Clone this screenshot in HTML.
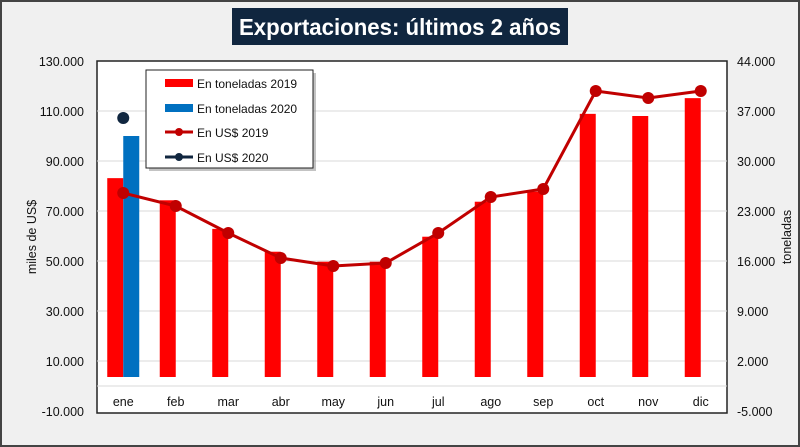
<!DOCTYPE html>
<html><head><meta charset="utf-8"><style>
body{margin:0;background:#fff}
svg{display:block;font-family:"Liberation Sans",sans-serif}
</style></head><body>
<svg id="c" width="800" height="447" xmlns="http://www.w3.org/2000/svg">
<rect x="1" y="1" width="798" height="445" fill="#f0f0f0" stroke="#444" stroke-width="2"/>
<rect x="232" y="8" width="336" height="37" fill="#10263f"/>
<text x="400" y="35" text-anchor="middle" font-size="23" font-weight="bold" fill="#fff" textLength="322" lengthAdjust="spacingAndGlyphs">Exportaciones: últimos 2 años</text>
<rect x="97" y="61" width="630" height="352" fill="#fff" stroke="#222" stroke-width="1.5"/>
<g id="grid"></g><g id="bars"></g><g id="lines"></g><g id="axes"></g>
<text transform="translate(36,237) rotate(-90)" text-anchor="middle" font-size="12.5" fill="#111">miles de US$</text>
<text transform="translate(791,237) rotate(-90)" text-anchor="middle" font-size="12.5" fill="#111">toneladas</text>
<g>
<rect x="149" y="73" width="167" height="98" fill="#888" opacity="0.5"/>
<rect x="146" y="70" width="167" height="98" fill="#fff" stroke="#222" stroke-width="1"/>
<g><rect x="165" y="79" width="28" height="8" fill="#ff0000"/><text x="197" y="88" font-size="12" fill="#111">En toneladas 2019</text></g>
<g><rect x="165" y="104" width="28" height="8" fill="#0070c0"/><text x="197" y="113" font-size="12" fill="#111">En toneladas 2020</text></g>
<g><line x1="165" y1="132" x2="193" y2="132" stroke="#c00000" stroke-width="3"/><circle cx="179" cy="132" r="4" fill="#c00000"/><text x="197" y="137" font-size="12" fill="#111">En US$ 2019</text></g>
<g><line x1="165" y1="157" x2="193" y2="157" stroke="#10263f" stroke-width="3"/><circle cx="179" cy="157" r="4" fill="#10263f"/><text x="197" y="162" font-size="12" fill="#111">En US$ 2020</text></g>
</g>
</svg>
<script>
const categories=["ene","feb","mar","abr","may","jun","jul","ago","sep","oct","nov","dic"];
const tons2019=[27600,24500,20500,17300,15900,15900,19400,24300,25700,36600,36300,38800];
const tons2020=[33500];
const usd2019=[77200,72000,61200,51200,48000,49200,61200,75600,78800,118000,115200,118000];
const usd2020=[107200];
const leftTicks=[130000,110000,90000,70000,50000,30000,10000,-10000];
const rightTicks=[44000,37000,30000,23000,16000,9000,2000,-5000];
const gridValues=[110000,90000,70000,50000,30000,10000,0];
const NS="http://www.w3.org/2000/svg";
const X0=97,W=630,T=61;
const yL=v=>T+(130000-v)*0.0025;
const yR=v=>T+(44000-v)*50/7000;
const xC=i=>X0+W/categories.length*(i+0.5);
const barBase=377;
function mk(tag,attrs,parent){const e=document.createElementNS(NS,tag);for(const k in attrs)e.setAttribute(k,attrs[k]);document.getElementById(parent).appendChild(e);return e;}
gridValues.forEach(v=>{
 const g=mk("line",{x1:X0,x2:X0+W,y1:yL(v),y2:yL(v),stroke:"#d9d9d9","stroke-width":1},"grid");
 
 
});
leftTicks.forEach(v=>{
 const t=mk("text",{x:84,y:yL(v)+5,"text-anchor":"end","font-size":12.5,fill:"#111"},"axes");
 t.textContent=v.toLocaleString("de-DE");
 
 
});
rightTicks.forEach(v=>{
 const t=mk("text",{x:737,y:yR(v)+5,"font-size":12.5,fill:"#111"},"axes");
 t.textContent=v.toLocaleString("de-DE");
 
 
});
categories.forEach((c,i)=>{
 const t=mk("text",{x:xC(i),y:406,"text-anchor":"middle","font-size":12.5,fill:"#111"},"axes");
 t.textContent=c;
 
 
});
tons2019.forEach((v,i)=>{
 const y=yR(v);
 const b=mk("rect",{x:xC(i)-16,y:y,width:16,height:barBase-y,fill:"#ff0000"},"bars");
 
 
});
tons2020.forEach((v,i)=>{
 const y=yR(v);
 const b=mk("rect",{x:xC(i),y:y,width:16,height:barBase-y,fill:"#0070c0"},"bars");
 
 
});
const p=mk("polyline",{points:usd2019.map((v,i)=>xC(i)+","+yL(v)).join(" "),fill:"none",stroke:"#c00000","stroke-width":3},"lines");


usd2019.forEach((v,i)=>{
 const c=mk("circle",{cx:xC(i),cy:yL(v),r:6,fill:"#c00000"},"lines");
 
 
});
usd2020.forEach((v,i)=>{
 const c=mk("circle",{cx:xC(i),cy:yL(v),r:6,fill:"#10263f"},"lines");
 
 
});
</script>
</body></html>
